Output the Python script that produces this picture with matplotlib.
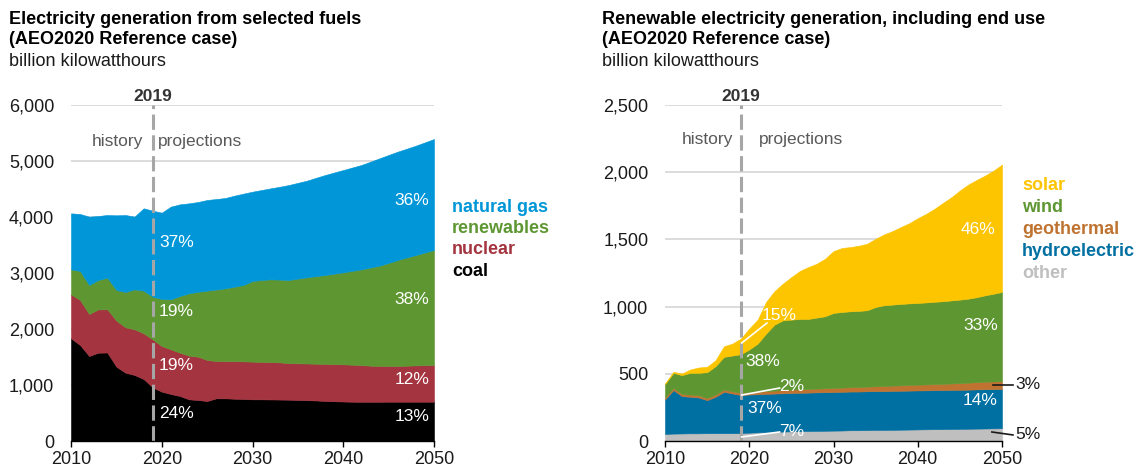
import matplotlib
matplotlib.use("Agg")
import matplotlib.pyplot as plt
import numpy as np

plt.rcParams['font.family'] = ['Liberation Sans', 'DejaVu Sans']

years = np.arange(2010, 2051)

# left chart: electricity generation from selected fuels (billion kWh)
coal = [1833, 1714, 1518, 1577, 1580, 1327, 1220, 1179, 1107, 958,
        881, 839, 804, 744, 732, 714, 762, 762, 755, 750,
        744, 744, 742, 740, 738, 732, 728, 724, 715, 710,
        705, 702, 700, 700, 700, 702, 702, 702, 702, 702,
        702]
nuclear = [786, 804, 750, 774, 771, 822, 810, 815, 816, 857,
           815, 798, 773, 780, 774, 732, 667, 665, 670, 672,
           673, 668, 666, 664, 652, 655, 656, 656, 661, 662,
           664, 660, 655, 645, 640, 637, 637, 643, 648, 653,
           655]
renewables = [446, 518, 518, 524, 566, 547, 631, 714, 762, 762,
              840, 893, 1012, 1113, 1159, 1239, 1276, 1299, 1330, 1364,
              1440, 1463, 1479, 1478, 1485, 1513, 1539, 1564, 1588, 1616,
              1643, 1676, 1710, 1753, 1791, 1841, 1893, 1933, 1971, 2011,
              2054]
natural_gas = [1000, 1018, 1220, 1143, 1119, 1334, 1375, 1298, 1470, 1536,
               1541, 1655, 1637, 1607, 1603, 1619, 1616, 1613, 1626, 1631,
               1595, 1607, 1625, 1658, 1696, 1710, 1726, 1756, 1786, 1807,
               1827, 1846, 1864, 1890, 1917, 1928, 1935, 1942, 1953, 1967,
               1982]

# right chart: renewable generation incl. end use (billion kWh)
other = [52, 55, 56, 57, 57, 58, 58, 58, 58, 58,
         62, 64, 66, 68, 70, 72, 73, 74, 75, 76,
         77, 78, 80, 80, 81, 82, 82, 83, 84, 85,
         86, 87, 88, 88, 89, 90, 91, 92, 93, 94,
         95]
hydro = [257, 324, 278, 272, 267, 246, 271, 308, 296, 284,
         284, 284, 285, 285, 285, 285, 286, 286, 287, 287,
         287, 288, 288, 288, 289, 289, 289, 290, 290, 290,
         290, 290, 290, 291, 291, 291, 291, 292, 292, 292,
         292]
geothermal = [15, 16, 16, 16, 16, 16, 17, 17, 16, 16,
              17, 18, 20, 22, 24, 25, 26, 27, 28, 29,
              30, 31, 32, 33, 34, 36, 38, 39, 40, 42,
              43, 44, 45, 46, 48, 50, 52, 54, 56, 57,
              58]
wind = [100, 112, 140, 162, 167, 192, 211, 243, 266, 288,
        318, 359, 429, 491, 519, 521, 523, 521, 528, 536,
        559, 563, 565, 567, 569, 590, 601, 603, 606, 607,
        608, 610, 613, 615, 618, 621, 625, 632, 643, 653,
        664]
solar = [4, 8, 12, 25, 40, 40, 44, 79, 89, 116,
         156, 178, 235, 250, 273, 317, 357, 386, 401, 428,
         460, 476, 478, 485, 495, 508, 527, 547, 572, 597,
         631, 659, 692, 732, 768, 812, 849, 873, 891, 916,
         948]

fuel_names = ['coal', 'nuclear', 'renewables', 'natural gas']
fuel_colors = ['#000000', '#a4343f', '#5e9732', '#0096d7']
ren_names = ['other', 'hydroelectric', 'geothermal', 'wind', 'solar']
ren_colors = ['#bfbfbf', '#0070a2', '#c07330', '#5e9732', '#fdc400']

W, H = 1139, 474
fig = plt.figure(figsize=(W / 100, H / 100), dpi=100)
ax1 = fig.add_axes([71 / W, 33 / H, 363 / W, 336 / H])
ax2 = fig.add_axes([665 / W, 33 / H, 337 / W, 336 / H])


def style(ax, ymax, step):
    ax.set_xlim(2010, 2050)
    ax.set_ylim(0, ymax)
    ticks = np.arange(0, ymax + 1, step)
    ax.set_yticks(ticks)
    ax.set_yticklabels([f"{t:,}" for t in ticks])
    ax.set_xticks(range(2010, 2051, 10))
    for s in ['top', 'right', 'left']:
        ax.spines[s].set_visible(False)
    ax.spines['bottom'].set_color('#000000')
    ax.spines['bottom'].set_linewidth(1.0)
    ax.spines['bottom'].set_zorder(5)
    ax.tick_params(axis='y', length=0, pad=12, labelsize=13, labelcolor='#1a1a1a')
    ax.tick_params(axis='x', length=4, width=1, labelsize=13, pad=3, labelcolor='#1a1a1a')
    ax.grid(axis='y', color='#d9d9d9', lw=1.3)
    ax.set_axisbelow(True)


def stack(ax, series, colors):
    polys = ax.stackplot(years, *series, colors=colors)
    for p, c in zip(polys, colors):
        p.set_edgecolor(c)
        p.set_linewidth(0.4)


def divider(ax, hist_x, hist_y, proj_x):
    ax.axvline(2019, color='#a6a6a6', lw=2.2, ls=(0, (5, 1.8)), zorder=4)
    ax.annotate('2019', xy=(2019, 1), xycoords=('data', 'axes fraction'),
                xytext=(0, 1), textcoords='offset points', ha='center',
                va='bottom', fontsize=12.5, fontweight='bold', color='#333333')
    ax.text(hist_x, hist_y, 'history', ha='right', va='center', fontsize=12.5, color='#595959')
    ax.text(proj_x, hist_y, 'projections', ha='left', va='center', fontsize=12.5, color='#595959')


# ---- left chart
style(ax1, 6000, 1000)
stack(ax1, [coal, nuclear, renewables, natural_gas], fuel_colors)
divider(ax1, 2017.9, 5357, 2019.6)

lab = dict(color='white', fontsize=12.5, va='center', zorder=6)
ax1.text(2019.7, 3536, '37%', ha='left', **lab)
ax1.text(2019.7, 2304, '19%', ha='left', **lab)
ax1.text(2019.7, 1357, '19%', ha='left', **lab)
ax1.text(2019.7, 500, '24%', ha='left', **lab)
ax1.text(2049.5, 4286, '36%', ha='right', **lab)
ax1.text(2049.5, 2518, '38%', ha='right', **lab)
ax1.text(2049.5, 1107, '12%', ha='right', **lab)
ax1.text(2049.5, 429, '13%', ha='right', **lab)

# ---- right chart
style(ax2, 2500, 500)
stack(ax2, [other, hydro, geothermal, wind, solar], ren_colors)
divider(ax2, 2018.1, 2240, 2021.2)

ax2.text(2021.5, 937, '15%', ha='left', **lab)
ax2.plot([2019.1, 2022.1], [729, 878], color='white', lw=1.2, zorder=6)
ax2.text(2019.5, 595, '38%', ha='left', **lab)
ax2.text(2023.6, 409, '2%', ha='left', **lab)
ax2.plot([2019.1, 2023.6], [342, 394], color='white', lw=1.2, zorder=6)
ax2.text(2019.8, 245, '37%', ha='left', **lab)
ax2.text(2023.6, 74, '7%', ha='left', **lab)
ax2.plot([2019.1, 2023.6], [30, 67], color='white', lw=1.2, zorder=6)
ax2.text(2049.2, 1577, '46%', ha='right', **lab)
ax2.text(2049.5, 856, '33%', ha='right', **lab)
ax2.text(2049.5, 298, '14%', ha='right', **lab)

ax2.plot([2048.9, 2051.3], [417, 417], color='#1a1a1a', lw=1.2, clip_on=False, zorder=6)
ax2.text(2051.6, 417, '3%', ha='left', va='center', fontsize=12.5, color='#1a1a1a')
ax2.plot([2048.8, 2051.3], [67, 45], color='#1a1a1a', lw=1.2, clip_on=False, zorder=6)
ax2.text(2051.6, 45, '5%', ha='left', va='center', fontsize=12.5, color='#1a1a1a')

# ---- titles
for x0, t in [(9, 'Electricity generation from selected fuels'),
              (602, 'Renewable electricity generation, including end use')]:
    fig.text(x0 / W, 1 - 19 / H, t, fontsize=13, fontweight='bold', va='center', color='#000000')
    fig.text(x0 / W, 1 - 40 / H, '(AEO2020 Reference case)', fontsize=13,
             fontweight='bold', va='center', color='#000000')
    fig.text(x0 / W, 1 - 62 / H, 'billion kilowatthours', fontsize=13, va='center', color='#1a1a1a')

# ---- side labels
for i, (name, c) in enumerate(zip(fuel_names[::-1], fuel_colors[::-1])):
    fig.text(452 / W, 1 - (207 + 21.5 * i) / H, name, color=c, fontsize=13,
             fontweight='bold', va='center')
for i, (name, c) in enumerate(zip(ren_names[::-1], ren_colors[::-1])):
    fig.text(1022 / W, 1 - (186 + 21.8 * i) / H, name, color=c, fontsize=13,
             fontweight='bold', va='center')

fig.savefig('out.png', dpi=100)
